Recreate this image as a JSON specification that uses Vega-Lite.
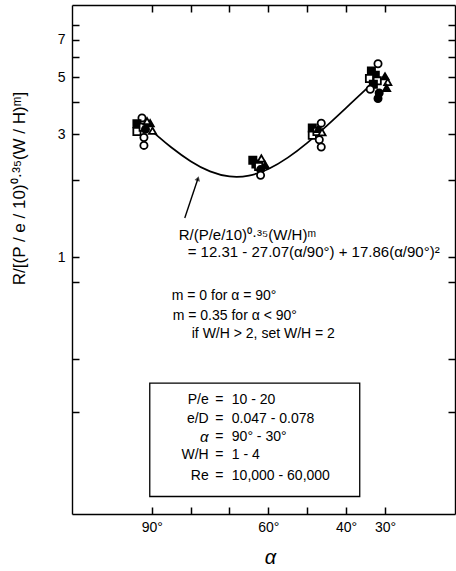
{
  "$schema": "https://vega.github.io/schema/vega-lite/v6.json",
  "width": 383,
  "height": 509,
  "autosize": {"type": "none"},
  "padding": {"left": 72, "top": 5, "right": 1, "bottom": 57},
  "background": "white",
  "config": {
    "view": {"stroke": null},
    "font": "Liberation Sans",
    "axis": {
      "domainColor": "black",
      "domainWidth": 1.4,
      "tickColor": "black",
      "tickWidth": 1.5,
      "tickSize": -7,
      "labelColor": "black",
      "labelFont": "Liberation Sans",
      "labelFontSize": 14,
      "labelOverlap": false,
      "labelFlush": false,
      "grid": false,
      "titleColor": "black",
      "titleFont": "Liberation Sans",
      "titleFontWeight": "normal"
    }
  },
  "datasets": {
    "points": [
      {"a": 92.5, "v": 3.48, "s": "circle", "f": "open"},
      {"a": 93.8, "v": 3.30, "s": "square", "f": "solid"},
      {"a": 93.8, "v": 3.08, "s": "square", "f": "open"},
      {"a": 92.2, "v": 3.20, "s": "square", "f": "open"},
      {"a": 90.4, "v": 3.32, "s": "triangle", "f": "solid"},
      {"a": 89.8, "v": 3.10, "s": "triangle", "f": "open"},
      {"a": 91.6, "v": 3.14, "s": "circle", "f": "solid"},
      {"a": 91.2, "v": 3.38, "s": "triangle", "f": "open"},
      {"a": 92.0, "v": 2.92, "s": "circle", "f": "open"},
      {"a": 92.0, "v": 2.72, "s": "circle", "f": "open"},
      {"a": 64.0, "v": 2.38, "s": "square", "f": "solid"},
      {"a": 63.2, "v": 2.30, "s": "square", "f": "solid"},
      {"a": 62.5, "v": 2.25, "s": "square", "f": "open"},
      {"a": 61.8, "v": 2.42, "s": "triangle", "f": "open"},
      {"a": 60.8, "v": 2.28, "s": "triangle", "f": "solid"},
      {"a": 62.0, "v": 2.19, "s": "circle", "f": "solid"},
      {"a": 62.0, "v": 2.08, "s": "circle", "f": "open"},
      {"a": 46.4, "v": 3.32, "s": "circle", "f": "open"},
      {"a": 48.7, "v": 3.18, "s": "square", "f": "solid"},
      {"a": 48.7, "v": 2.98, "s": "square", "f": "open"},
      {"a": 47.5, "v": 3.08, "s": "square", "f": "open"},
      {"a": 47.2, "v": 3.15, "s": "triangle", "f": "solid"},
      {"a": 46.2, "v": 3.06, "s": "triangle", "f": "open"},
      {"a": 46.9, "v": 2.86, "s": "circle", "f": "open"},
      {"a": 46.4, "v": 2.68, "s": "circle", "f": "open"},
      {"a": 31.8, "v": 5.65, "s": "circle", "f": "open"},
      {"a": 33.5, "v": 5.30, "s": "square", "f": "solid"},
      {"a": 32.5, "v": 5.10, "s": "square", "f": "solid"},
      {"a": 34.0, "v": 4.95, "s": "square", "f": "open"},
      {"a": 32.0, "v": 4.85, "s": "square", "f": "open"},
      {"a": 33.0, "v": 4.70, "s": "square", "f": "solid"},
      {"a": 33.8, "v": 4.50, "s": "circle", "f": "open"},
      {"a": 30.0, "v": 5.05, "s": "triangle", "f": "solid"},
      {"a": 29.3, "v": 4.80, "s": "triangle", "f": "open"},
      {"a": 29.6, "v": 4.55, "s": "triangle", "f": "solid"},
      {"a": 31.5, "v": 4.35, "s": "circle", "f": "solid"},
      {"a": 31.8, "v": 4.14, "s": "circle", "f": "solid"}
    ],
    "curve": [
      {"a": 90, "v": 3.100},
      {"a": 88, "v": 2.917},
      {"a": 85, "v": 2.674},
      {"a": 80, "v": 2.360},
      {"a": 75, "v": 2.155},
      {"a": 70, "v": 2.060},
      {"a": 65, "v": 2.075},
      {"a": 60, "v": 2.201},
      {"a": 55, "v": 2.437},
      {"a": 50, "v": 2.783},
      {"a": 45, "v": 3.240},
      {"a": 40, "v": 3.807},
      {"a": 35, "v": 4.484},
      {"a": 32, "v": 4.943}
    ],
    "arrow": [
      {"a1": 81.5, "v1": 1.42, "a2": 78.1, "v2": 2.02}
    ],
    "arrowHead": [
      {"a": 78.1, "v": 2.02}
    ],
    "box": [
      {"a1": 90.5, "a2": 36.5, "v1": 0.323, "v2": 0.117}
    ],
    "equation": [
      {"a": 83.06, "v": 1.218, "t": "R/(P/e/10)⁰·³⁵(W/H)ᵐ"},
      {"a": 80.75, "v": 1.046, "t": "= 12.31 - 27.07(α/90°) + 17.86(α/90°)²"}
    ],
    "notes": [
      {"a": 84.86, "v": 0.705, "t": "m = 0 for α = 90°"},
      {"a": 84.6, "v": 0.590, "t": "m = 0.35 for α < 90°"},
      {"a": 79.7, "v": 0.502, "t": "if W/H > 2, set W/H = 2"},
      {"a": 69.4, "v": 0.278, "t": "10 - 20"},
      {"a": 69.4, "v": 0.235, "t": "0.047 - 0.078"},
      {"a": 69.4, "v": 0.199, "t": "90° - 30°"},
      {"a": 69.4, "v": 0.170, "t": "1 - 4"},
      {"a": 69.4, "v": 0.140, "t": "10,000 - 60,000"}
    ],
    "tableKeys": [
      {"a": 75.35, "v": 0.278, "t": "P/e"},
      {"a": 75.35, "v": 0.235, "t": "e/D"},
      {"a": 75.35, "v": 0.170, "t": "W/H"},
      {"a": 75.35, "v": 0.140, "t": "Re"}
    ],
    "tableAlpha": [
      {"a": 75.35, "v": 0.199, "t": "α"}
    ],
    "tableEq": [
      {"a": 72.6, "v": 0.278, "t": "="},
      {"a": 72.6, "v": 0.235, "t": "="},
      {"a": 72.6, "v": 0.199, "t": "="},
      {"a": 72.6, "v": 0.170, "t": "="},
      {"a": 72.6, "v": 0.140, "t": "="}
    ]
  },
  "layer": [
    {
      "data": {"name": "box"},
      "mark": {"type": "rect", "filled": false, "stroke": "black", "strokeWidth": 1.3},
      "encoding": {
        "x": {"field": "a1", "type": "quantitative",
              "scale": {"type": "linear", "domain": [12, 110.5], "reverse": true, "zero": false, "nice": false},
              "axis": {"orient": "top", "values": [90, 80, 70, 60, 50, 40, 30], "labels": false, "title": null}},
        "x2": {"field": "a2"},
        "y": {"field": "v1", "type": "quantitative",
              "scale": {"type": "log", "domain": [0.1, 9.57], "nice": false},
              "axis": {"orient": "right", "values": [0.25, 0.4, 0.8, 1, 2, 3, 4, 5, 6, 7, 8], "labels": false, "title": null}},
        "y2": {"field": "v2"}
      }
    },
    {
      "data": {"name": "curve"},
      "mark": {"type": "line", "color": "black", "strokeWidth": 1.7, "interpolate": "natural"},
      "encoding": {
        "x": {"field": "a", "type": "quantitative",
              "scale": {"type": "linear", "domain": [12, 110.5], "reverse": true, "zero": false, "nice": false},
              "axis": {"orient": "bottom", "values": [90, 80, 70, 60, 50, 40, 30],
                       "labelExpr": "(datum.value == 90 || datum.value == 60 || datum.value == 40 || datum.value == 30) ? datum.value + '°' : ''",
                       "labelPadding": 13,
                       "title": "α", "titleFontStyle": "italic", "titleFontSize": 20,
                       "titleX": 198, "titleY": 43, "titleBaseline": "middle"}},
        "y": {"field": "v", "type": "quantitative",
              "scale": {"type": "log", "domain": [0.1, 9.57], "nice": false},
              "axis": {"orient": "left", "values": [0.25, 0.4, 0.8, 1, 2, 3, 4, 5, 6, 7, 8],
                       "labelExpr": "(datum.value == 1 || datum.value == 3 || datum.value == 5 || datum.value == 7) ? datum.label : ''",
                       "labelPadding": 14,
                       "title": "R/[(P / e / 10)⁰·³⁵(W / H)ᵐ]", "titleFontSize": 17,
                       "titleX": -53, "titleY": 183, "titleAngle": 270,
                       "titleAlign": "center", "titleBaseline": "middle"}}
      }
    },
    {
      "data": {"name": "arrow"},
      "mark": {"type": "rule", "color": "black", "strokeWidth": 1.4},
      "encoding": {
        "x": {"field": "a1", "type": "quantitative", "scale": {"type": "linear", "domain": [12, 110.5], "reverse": true, "zero": false, "nice": false}, "axis": null},
        "x2": {"field": "a2"},
        "y": {"field": "v1", "type": "quantitative", "scale": {"type": "log", "domain": [0.1, 9.57], "nice": false}, "axis": null},
        "y2": {"field": "v2"}
      }
    },
    {
      "data": {"name": "arrowHead"},
      "mark": {"type": "point", "shape": "triangle-up", "filled": true, "color": "black", "size": 32, "angle": 18},
      "encoding": {
        "x": {"field": "a", "type": "quantitative", "scale": {"type": "linear", "domain": [12, 110.5], "reverse": true, "zero": false, "nice": false}, "axis": null},
        "y": {"field": "v", "type": "quantitative", "scale": {"type": "log", "domain": [0.1, 9.57], "nice": false}, "axis": null}
      }
    },
    {
      "data": {"name": "points"},
      "mark": {"type": "point", "filled": true, "stroke": "black", "strokeWidth": 1.8, "size": 52, "opacity": 1},
      "encoding": {
        "x": {"field": "a", "type": "quantitative", "scale": {"type": "linear", "domain": [12, 110.5], "reverse": true, "zero": false, "nice": false}, "axis": null},
        "y": {"field": "v", "type": "quantitative", "scale": {"type": "log", "domain": [0.1, 9.57], "nice": false}, "axis": null},
        "shape": {"field": "s", "type": "nominal",
                  "scale": {"domain": ["circle", "square", "triangle"], "range": ["circle", "square", "triangle-up"]},
                  "legend": null},
        "fill": {"field": "f", "type": "nominal",
                 "scale": {"domain": ["open", "solid"], "range": ["white", "black"]},
                 "legend": null}
      }
    },
    {
      "data": {"name": "equation"},
      "mark": {"type": "text", "align": "left", "baseline": "middle", "fontSize": 15, "font": "Liberation Sans", "color": "black"},
      "encoding": {
        "x": {"field": "a", "type": "quantitative", "scale": {"type": "linear", "domain": [12, 110.5], "reverse": true, "zero": false, "nice": false}, "axis": null},
        "y": {"field": "v", "type": "quantitative", "scale": {"type": "log", "domain": [0.1, 9.57], "nice": false}, "axis": null},
        "text": {"field": "t"}
      }
    },
    {
      "data": {"name": "notes"},
      "mark": {"type": "text", "align": "left", "baseline": "middle", "fontSize": 14, "font": "Liberation Sans", "color": "black"},
      "encoding": {
        "x": {"field": "a", "type": "quantitative", "scale": {"type": "linear", "domain": [12, 110.5], "reverse": true, "zero": false, "nice": false}, "axis": null},
        "y": {"field": "v", "type": "quantitative", "scale": {"type": "log", "domain": [0.1, 9.57], "nice": false}, "axis": null},
        "text": {"field": "t"}
      }
    },
    {
      "data": {"name": "tableKeys"},
      "mark": {"type": "text", "align": "right", "baseline": "middle", "fontSize": 14, "font": "Liberation Sans", "color": "black"},
      "encoding": {
        "x": {"field": "a", "type": "quantitative", "scale": {"type": "linear", "domain": [12, 110.5], "reverse": true, "zero": false, "nice": false}, "axis": null},
        "y": {"field": "v", "type": "quantitative", "scale": {"type": "log", "domain": [0.1, 9.57], "nice": false}, "axis": null},
        "text": {"field": "t"}
      }
    },
    {
      "data": {"name": "tableAlpha"},
      "mark": {"type": "text", "align": "right", "baseline": "middle", "fontSize": 15, "fontStyle": "italic", "font": "Liberation Sans", "color": "black"},
      "encoding": {
        "x": {"field": "a", "type": "quantitative", "scale": {"type": "linear", "domain": [12, 110.5], "reverse": true, "zero": false, "nice": false}, "axis": null},
        "y": {"field": "v", "type": "quantitative", "scale": {"type": "log", "domain": [0.1, 9.57], "nice": false}, "axis": null},
        "text": {"field": "t"}
      }
    },
    {
      "data": {"name": "tableEq"},
      "mark": {"type": "text", "align": "center", "baseline": "middle", "fontSize": 14, "font": "Liberation Sans", "color": "black"},
      "encoding": {
        "x": {"field": "a", "type": "quantitative", "scale": {"type": "linear", "domain": [12, 110.5], "reverse": true, "zero": false, "nice": false}, "axis": null},
        "y": {"field": "v", "type": "quantitative", "scale": {"type": "log", "domain": [0.1, 9.57], "nice": false}, "axis": null},
        "text": {"field": "t"}
      }
    }
  ],
  "resolve": {"axis": {"x": "independent", "y": "independent"}}
}
